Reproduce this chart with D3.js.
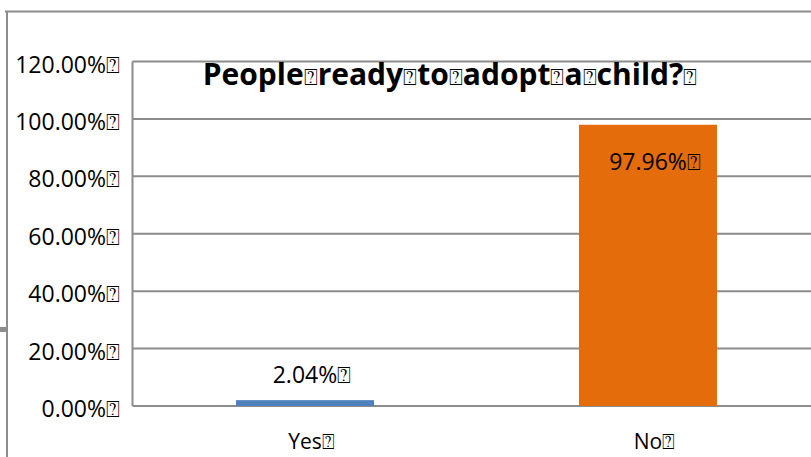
<!DOCTYPE html>
<html>
<head>
<meta charset="utf-8">
<script src="https://cdn.jsdelivr.net/npm/d3@7"></script>
<style>
  html, body { margin: 0; padding: 0; background: #fff; }
  svg { display: block; }
  text { font-family: "Open Sans", "Noto Sans", sans-serif; fill: #000; }
</style>
</head>
<body>
<svg id="chart" width="811" height="457"></svg>
<script>
// Survey answers and their shares
const categories = ["Yes", "No"];
const shares = [0.0204, 0.9796];
const yTicks = [0, 0.2, 0.4, 0.6, 0.8, 1.0, 1.2];
const barColors = ["#4f81bd", "#e46c0a"];
const titleWords = ["People", "ready", "to", "adopt", "a", "child?"];
const BOX = "\u2370";

const svg = d3.select("#chart");
const W = 811, H = 457;

const plot = { left: 133.5, right: 819.5, top: 61.5, bottom: 406 };

const x = d3.scaleBand()
  .domain(categories)
  .range([plot.left, plot.right])
  .paddingInner(0.5977)
  .paddingOuter(0.2988);

const y = d3.scaleLinear()
  .domain([0, 1.2])
  .range([plot.bottom, plot.top]);

const fmt = d3.format(".2%");
const grid = "#8c8c8c";

// outer chart frame (top and left edges)
svg.append("line").attr("x1", 5).attr("x2", W).attr("y1", 11.5).attr("y2", 11.5)
  .attr("stroke", grid).attr("stroke-width", 2);
svg.append("line").attr("x1", 7).attr("x2", 7).attr("y1", 11).attr("y2", H)
  .attr("stroke", grid).attr("stroke-width", 2);
svg.append("rect").attr("x", 0).attr("y", 327).attr("width", 7).attr("height", 5)
  .attr("fill", grid);

// horizontal gridlines
svg.append("g").selectAll("line").data(yTicks).join("line")
  .attr("x1", plot.left - 1).attr("x2", W)
  .attr("y1", d => y(d)).attr("y2", d => y(d))
  .attr("stroke", grid).attr("stroke-width", 2);

// plot area left edge
svg.append("line").attr("x1", plot.left - 1).attr("x2", plot.left - 1)
  .attr("y1", plot.top).attr("y2", plot.bottom)
  .attr("stroke", grid).attr("stroke-width", 2);

// bars
svg.append("g").selectAll("rect").data(categories).join("rect")
  .attr("x", d => x(d))
  .attr("width", x.bandwidth())
  .attr("y", (d, i) => y(shares[i]))
  .attr("height", (d, i) => y(0) - y(shares[i]))
  .attr("fill", (d, i) => barColors[i]);

// text centred on a point, with a trailing box glyph
function centredWithBox(g, cx, baseline, str, size) {
  const t = g.append("text").attr("x", cx).attr("y", baseline)
    .attr("text-anchor", "middle").attr("font-size", size).text(str);
  const w = t.node().getComputedTextLength();
  g.append("text").attr("x", cx + w / 2).attr("y", baseline)
    .attr("font-size", size).text(BOX);
}

// y-axis tick labels (right aligned, box included)
const tickG = svg.append("g");
yTicks.forEach(v => {
  tickG.append("text")
    .attr("x", 120).attr("y", y(v) + 11)
    .attr("text-anchor", "end")
    .attr("font-size", 23)
    .text(fmt(v) + BOX);
});

// value labels
const labelG = svg.append("g");
centredWithBox(labelG, x("Yes") + x.bandwidth() / 2, y(shares[0]) - 17, fmt(shares[0]), 23);
centredWithBox(labelG, x("No") + x.bandwidth() / 2, y(shares[1]) + 45, fmt(shares[1]), 23);

// category labels
categories.forEach(c => {
  centredWithBox(labelG, x(c) + x.bandwidth() / 2, 449, c, 21);
});

// title: words joined by box glyphs
const title = svg.append("text")
  .attr("x", 450).attr("y", 85)
  .attr("text-anchor", "middle")
  .attr("font-size", 30)
  .attr("font-weight", "bold");
titleWords.forEach(w => {
  title.append("tspan").text(w);
  title.append("tspan").attr("font-size", 23).attr("font-weight", "normal").text(BOX);
});
</script>
</body>
</html>
